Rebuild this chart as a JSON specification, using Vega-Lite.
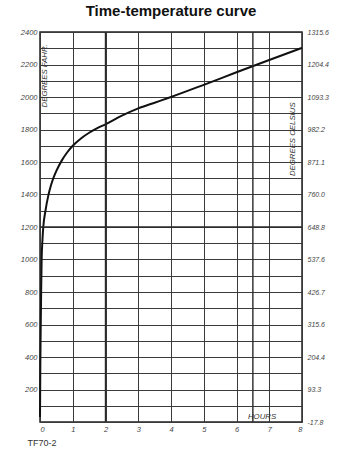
{
  "$schema": "https://vega.github.io/schema/vega-lite/v6.json",
  "width": 262,
  "height": 390,
  "autosize": "none",
  "padding": {"left": 40, "top": 32, "right": 39, "bottom": 32},
  "background": "white",
  "title": {"text": "Time-temperature curve", "font": "Liberation Sans", "fontSize": 15, "fontWeight": "bold", "color": "#111", "anchor": "middle", "offset": 9},
  "config": {
    "view": {"stroke": "#222", "strokeWidth": 1.5},
    "axis": {"labelFont": "Liberation Sans", "labelFontStyle": "italic", "labelFontSize": 7, "labelColor": "#444", "ticks": false, "domain": false, "gridColor": "#3a3a3a", "gridWidth": 1, "gridOpacity": 1}
  },
  "datasets": {
    "curve": [
      {"hours": 0, "degF": 30},
      {"hours": 0.01, "degF": 350},
      {"hours": 0.02, "degF": 550},
      {"hours": 0.035, "degF": 800},
      {"hours": 0.05, "degF": 1000},
      {"hours": 0.075, "degF": 1120},
      {"hours": 0.1, "degF": 1200},
      {"hours": 0.167, "degF": 1300},
      {"hours": 0.25, "degF": 1390},
      {"hours": 0.333, "degF": 1455},
      {"hours": 0.417, "degF": 1505},
      {"hours": 0.5, "degF": 1545},
      {"hours": 0.667, "degF": 1610},
      {"hours": 0.833, "degF": 1660},
      {"hours": 1, "degF": 1700},
      {"hours": 1.25, "degF": 1745},
      {"hours": 1.5, "degF": 1780},
      {"hours": 1.75, "degF": 1808},
      {"hours": 2, "degF": 1832},
      {"hours": 2.5, "degF": 1885},
      {"hours": 3, "degF": 1930},
      {"hours": 3.5, "degF": 1965},
      {"hours": 4, "degF": 2000},
      {"hours": 5, "degF": 2075},
      {"hours": 6, "degF": 2152},
      {"hours": 7, "degF": 2228},
      {"hours": 8, "degF": 2302}
    ],
    "vrules": [{"hours": 2}, {"hours": 6.5}],
    "hrules": [{"degF": 1200}],
    "notes": [
      {"hours": 0.15, "degF": 2130, "label": "DEGREES FAHR.", "angle": 270},
      {"hours": 7.72, "degF": 1740, "label": "DEGREES CELSIUS", "angle": 270},
      {"hours": 6.78, "degF": 30, "label": "HOURS", "angle": 0}
    ]
  },
  "layer": [
    {
      "data": {"name": "curve"},
      "mark": {"type": "line", "color": "#111", "strokeWidth": 2, "interpolate": "monotone"},
      "encoding": {
        "x": {"field": "hours", "type": "quantitative", "scale": {"domain": [0, 8], "nice": false},
          "axis": {"values": [0, 0.5, 1, 1.5, 2, 2.5, 3, 3.5, 4, 4.5, 5, 5.5, 6, 6.5, 7, 7.5, 8], "format": "d", "labelExpr": "datum.value % 1 == 0 ? datum.label : ''", "labelPadding": 3, "labelFontSize": 7.5,
            "title": "TF70-2", "titleFont": "Liberation Sans", "titleFontSize": 9, "titleFontWeight": "normal", "titleColor": "#333", "titleAnchor": "start", "titleAlign": "left", "titleX": -13, "titlePadding": 6}},
        "y": {"field": "degF", "type": "quantitative", "scale": {"domain": [0, 2400], "nice": false},
          "axis": {"values": [0, 100, 200, 300, 400, 500, 600, 700, 800, 900, 1000, 1100, 1200, 1300, 1400, 1500, 1600, 1700, 1800, 1900, 2000, 2100, 2200, 2300, 2400], "format": "d", "labelExpr": "datum.value % 200 == 0 && datum.value > 0 ? datum.label : ''", "labelPadding": 3, "labelFontSize": 7.5, "title": null}}
      }
    },
    {
      "data": {"name": "curve"},
      "mark": {"type": "line", "opacity": 0},
      "encoding": {
        "x": {"field": "hours", "type": "quantitative",
          "axis": {"values": [0, 0.5, 1, 1.5, 2, 2.5, 3, 3.5, 4, 4.5, 5, 5.5, 6, 6.5, 7, 7.5, 8], "format": "d", "labelExpr": "datum.value % 1 == 0 ? datum.label : ''", "labelPadding": 3, "labelFontSize": 7.5,
            "title": "TF70-2", "titleFont": "Liberation Sans", "titleFontSize": 9, "titleFontWeight": "normal", "titleColor": "#333", "titleAnchor": "start", "titleAlign": "left", "titleX": -13, "titlePadding": 6}},
        "y": {"field": "degF", "type": "quantitative",
          "axis": {"orient": "right", "grid": false, "values": [0, 200, 400, 600, 800, 1000, 1200, 1400, 1600, 1800, 2000, 2200, 2400], "labelExpr": "['-17.8','93.3','204.4','315.6','426.7','537.6','648.8','760.0','871.1','982.2','1093.3','1204.4','1315.6'][datum.value / 200]", "labelPadding": 5, "title": null}}
      }
    },
    {
      "data": {"name": "vrules"},
      "mark": {"type": "rule", "color": "#2a2a2a", "strokeWidth": 1.4},
      "encoding": {"x": {"field": "hours", "type": "quantitative",
          "axis": {"values": [0, 0.5, 1, 1.5, 2, 2.5, 3, 3.5, 4, 4.5, 5, 5.5, 6, 6.5, 7, 7.5, 8], "format": "d", "labelExpr": "datum.value % 1 == 0 ? datum.label : ''", "labelPadding": 3, "labelFontSize": 7.5,
            "title": "TF70-2", "titleFont": "Liberation Sans", "titleFontSize": 9, "titleFontWeight": "normal", "titleColor": "#333", "titleAnchor": "start", "titleAlign": "left", "titleX": -13, "titlePadding": 6}}}
    },
    {
      "data": {"name": "hrules"},
      "mark": {"type": "rule", "color": "#2a2a2a", "strokeWidth": 1.4},
      "encoding": {"y": {"field": "degF", "type": "quantitative", "axis": null}}
    },
    {
      "data": {"name": "notes"},
      "mark": {"type": "text", "font": "Liberation Sans", "fontStyle": "italic", "fontSize": 7.8, "color": "#333", "baseline": "middle", "align": "center"},
      "encoding": {
        "x": {"field": "hours", "type": "quantitative",
          "axis": {"values": [0, 0.5, 1, 1.5, 2, 2.5, 3, 3.5, 4, 4.5, 5, 5.5, 6, 6.5, 7, 7.5, 8], "format": "d", "labelExpr": "datum.value % 1 == 0 ? datum.label : ''", "labelPadding": 3, "labelFontSize": 7.5,
            "title": "TF70-2", "titleFont": "Liberation Sans", "titleFontSize": 9, "titleFontWeight": "normal", "titleColor": "#333", "titleAnchor": "start", "titleAlign": "left", "titleX": -13, "titlePadding": 6}},
        "y": {"field": "degF", "type": "quantitative", "axis": null},
        "text": {"field": "label"},
        "angle": {"field": "angle", "type": "quantitative", "scale": null}
      }
    }
  ],
  "resolve": {"axis": {"y": "independent"}}
}
